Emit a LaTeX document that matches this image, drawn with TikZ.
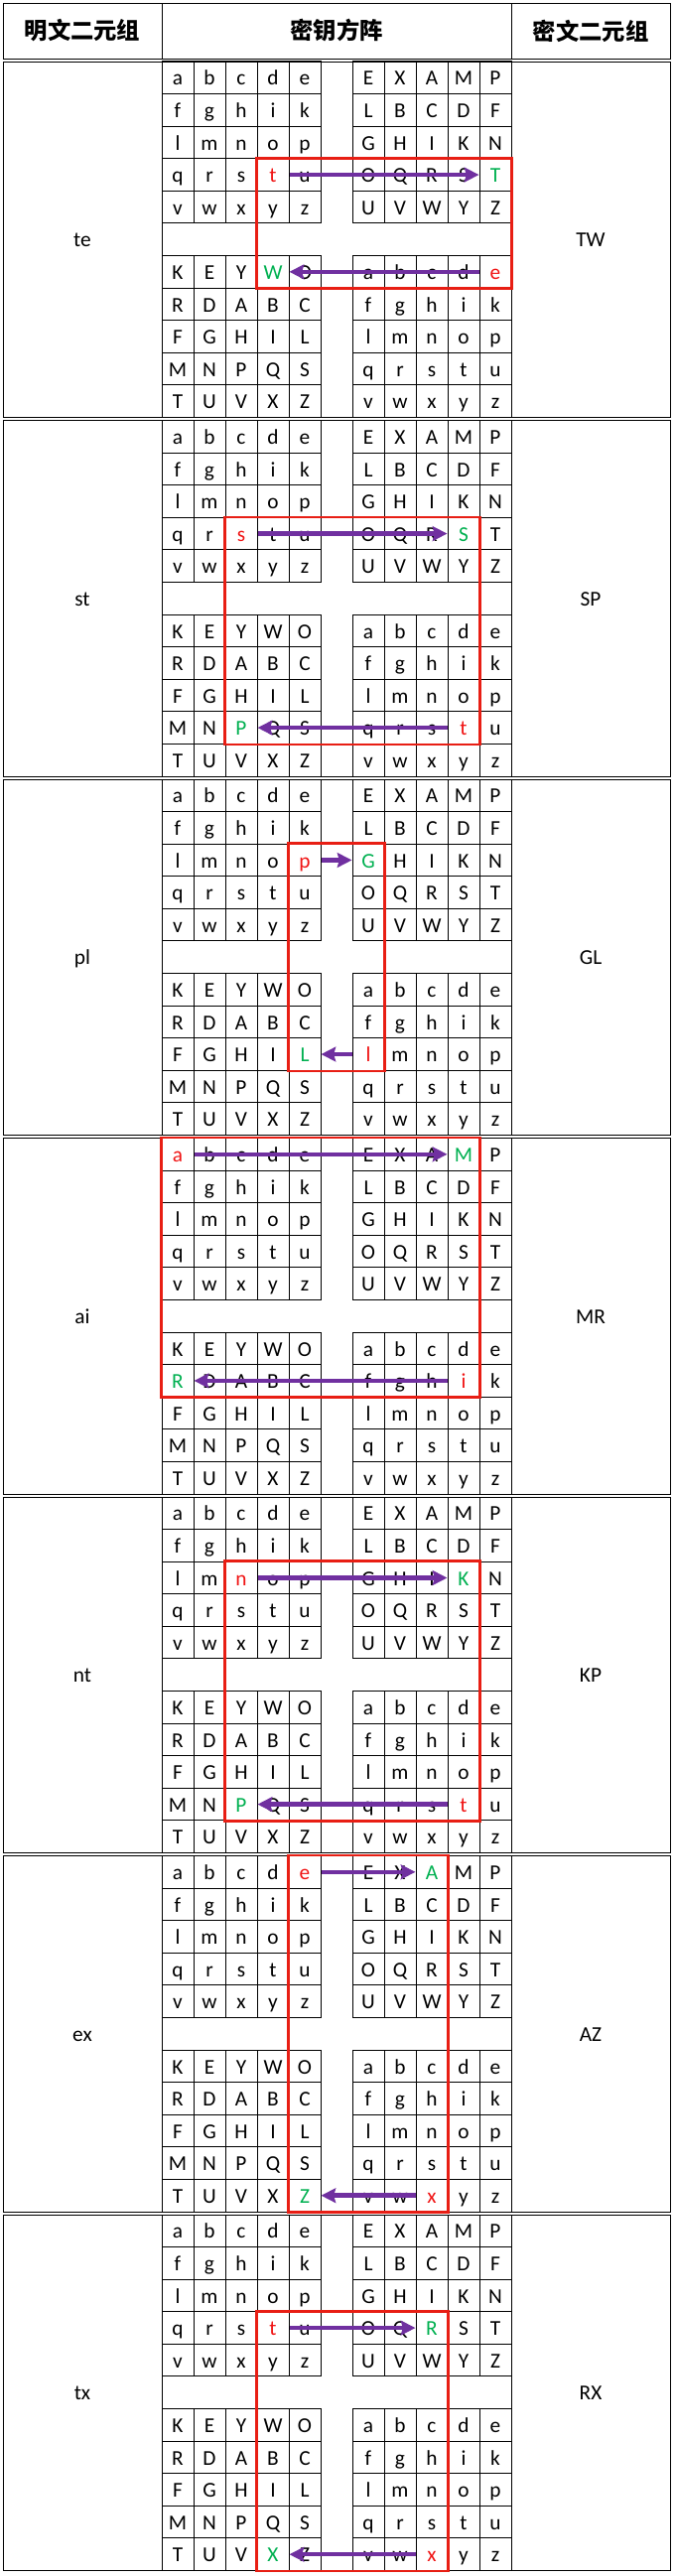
\documentclass[tikz,border=0pt]{standalone}
\usepackage{fontspec}
\setmainfont{Carlito}
\newfontfamily\cjk{Noto Sans CJK SC}
\usetikzlibrary{arrows.meta}

\definecolor{plainred}{RGB}{240,20,20}
\definecolor{ciphergreen}{RGB}{0,176,80}
\definecolor{boxred}{RGB}{232,30,20}
\definecolor{arrowpurple}{RGB}{112,48,160}

\newcommand\squl{{a,b,c,d,e},{f,g,h,i,k},{l,m,n,o,p},{q,r,s,t,u},{v,w,x,y,z}}
\newcommand\squr{{E,X,A,M,P},{L,B,C,D,F},{G,H,I,K,N},{O,Q,R,S,T},{U,V,W,Y,Z}}
\newcommand\sqll{{K,E,Y,W,O},{R,D,A,B,C},{F,G,H,I,L},{M,N,P,Q,S},{T,U,V,X,Z}}
\newcommand\sqlr{{a,b,c,d,e},{f,g,h,i,k},{l,m,n,o,p},{q,r,s,t,u},{v,w,x,y,z}}

\begin{document}
\begin{tikzpicture}[x=0.75pt, y=-0.75pt,
        sqcell/.style={draw, line width=0.75pt, minimum width=24pt, minimum height=24.45pt,
            inner sep=0pt, text height=11.5pt, text depth=0pt, font=\fontsize{16}{16}\selectfont},
        pairtext/.style={inner sep=0pt, text height=11.5pt, text depth=0pt, font=\fontsize{16}{16}\selectfont},
        headtext/.style={inner sep=0pt, font=\cjk\bfseries\fontsize{17.5}{17.5}\selectfont},
        pairbox/.style={draw=boxred, line width=1.9pt},
        jump/.style={draw=arrowpurple, line width=3.4pt, -{Stealth[length=11pt, width=11pt, inset=1.5pt]}}]

    \useasboundingbox (0,0) rectangle (680,2595);

    \draw[line width=0.75pt] (3,3) rectangle (675,59.5);
    \draw[line width=0.75pt] (163,3) -- (163,59.5) (515,3) -- (515,59.5);
    \node[headtext] (hplain) at (83,31) {明文二元组};
    \node[headtext] (hkey) at (339,31) {密钥方阵};
    \node[headtext] (hcipher) at (595,31) {密文二元组};

    \edef \rowh {32.59}
    \foreach \s / \plain / \cipher / \ra / \ca / \rb / \cb in {1/te/TW/4/4/7/11, 2/st/SP/4/3/10/10,
            3/pl/GL/3/5/9/7, 4/ai/MR/1/1/8/10, 5/nt/KP/3/3/10/10, 6/ex/AZ/1/5/11/9, 7/tx/RX/4/4/11/9}
        {
            \pgfmathparse{62 + (\s-1)*361.5}
            \edef \ytop {\pgfmathresult}
            \draw[line width=0.75pt] (3,\ytop) rectangle (675,\ytop+358.5);
            \draw[line width=0.75pt] (163,\ytop) -- (163,\ytop+358.5) (515,\ytop) -- (515,\ytop+358.5);

            \foreach \sq / \dr / \dc in {ul/0/0, ur/0/6, ll/6/0, lr/6/6}
                {
                    \expandafter\let\expandafter\sqlist\csname sq\sq\endcsname
                    \foreach \sqrow [count=\i] in \sqlist
                        {
                            \foreach \letter [count=\j] in \sqrow
                                {
                                    \pgfmathtruncatemacro \rr {\i + \dr}
                                    \pgfmathtruncatemacro \cc {\j + \dc}
                                    \def \lettercol {black}
                                    \ifnum\rr=\ra\relax
                                        \ifnum\cc=\ca\relax \def \lettercol {plainred}\fi
                                        \ifnum\cc=\cb\relax \def \lettercol {ciphergreen}\fi
                                    \fi
                                    \ifnum\rr=\rb\relax
                                        \ifnum\cc=\cb\relax \def \lettercol {plainred}\fi
                                        \ifnum\cc=\ca\relax \def \lettercol {ciphergreen}\fi
                                    \fi
                                    \node[sqcell, text=\lettercol] (s\s-\rr-\cc)
                                        at ({163+(\cc-0.5)*32}, {\ytop+(\rr-0.5)*\rowh}) {\letter};
                                }
                        }
                }

            \draw[pairbox] (s\s-\ra-\ca.north west) rectangle (s\s-\rb-\cb.south east);
            \draw[jump] (s\s-\ra-\ca.east) -- (s\s-\ra-\cb.west);
            \draw[jump] (s\s-\rb-\cb.west) -- (s\s-\rb-\ca.east);

            \node[pairtext] (p\s) at (83, \ytop+179.25) {\plain};
            \node[pairtext] (c\s) at (595, \ytop+179.25) {\cipher};
        }
\end{tikzpicture}
\end{document}
